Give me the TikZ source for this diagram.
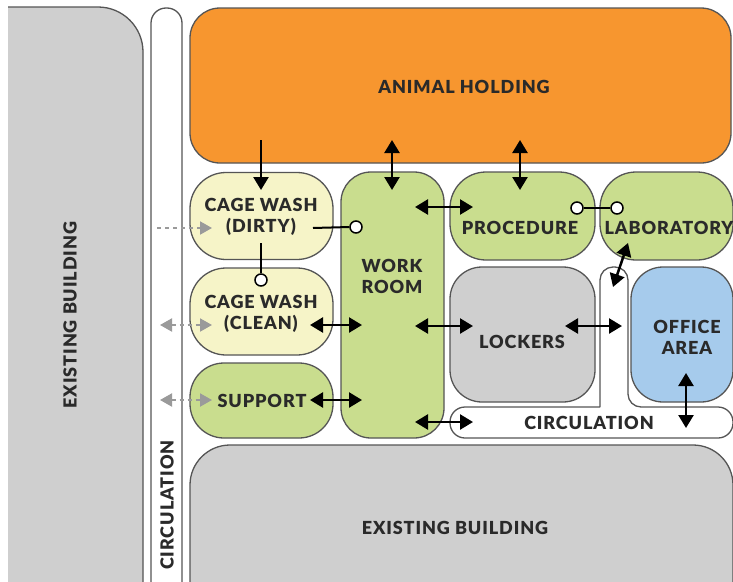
\documentclass[tikz,border=0pt]{standalone}
\usepackage{fontspec}
\setmainfont{Lato}[LetterSpace=5, BoldFont={Lato Black}]
\usetikzlibrary{arrows.meta}
\definecolor{bgray}{HTML}{CFCFCF}
\definecolor{edge}{HTML}{555555}
\definecolor{orng}{HTML}{F7962F}
\definecolor{pale}{HTML}{F6F4C8}
\definecolor{grn}{HTML}{C9DD8E}
\definecolor{blu}{HTML}{A6CBEC}
\definecolor{txt}{HTML}{2A2A2A}
\definecolor{dgray}{HTML}{9A9A9A}
\tikzset{
  room/.style={draw=edge, line width=1.3pt, inner sep=0pt},
  lbl/.style={text=txt, font=\fontsize{18}{21}\selectfont\bfseries, align=center, inner sep=0pt},
  biarrow/.style={line width=2.5pt, {Triangle[length=13pt,width=15pt]}-{Triangle[length=13pt,width=15pt]}},
  oneway/.style={line width=2.5pt, -{Triangle[length=13pt,width=15pt]}},
  gbi/.style={dgray, line width=2pt, dash pattern=on 4pt off 4pt, {Triangle[length=12pt,width=13pt]}-{Triangle[length=12pt,width=13pt]}},
  gone/.style={dgray, line width=2pt, dash pattern=on 4pt off 4pt, -{Triangle[length=12pt,width=13pt]}},
  link/.style={line width=2pt},
  ring/.style={circle, draw=black, line width=1.5pt, fill=white, minimum size=12pt, inner sep=0pt},
}
\begin{document}
\begin{tikzpicture}[x=1pt,y=-1pt]
\useasboundingbox (0,0) rectangle (733,581);
\clip (0,0) rectangle (733,581);
\fill[white] (0,0) rectangle (733,581);
% left existing building
\fill[bgray] (8,600) -- (8,7) {[rounded corners=45pt] -- (143,7) -- (143,600)};
\draw[edge, line width=1.3pt] (8,7) {[rounded corners=45pt] -- (143,7) -- (143,600)};
\node[lbl, rotate=90] (exL) at (70,315) {EXISTING BUILDING};
% circulation strip
\draw[edge, line width=1.3pt, fill=white] (151,600) {[rounded corners=15pt] -- (151,8) -- (182,8) -- (182,600)};
\node[lbl, rotate=90] (circV) at (167,505) {CIRCULATION};
% bottom existing building
\draw[edge, line width=1.3pt, fill=bgray] (190,600) {[rounded corners=40pt] -- (190,445) -- (733,445) -- (733,600)};
\node[lbl] (exB) at (455,528) {EXISTING BUILDING};
% inner circulation
\draw[edge, line width=1.3pt, fill=white] (600,407) {[rounded corners=13pt] -- (600,267) -- (628,267) -- (628,407)}
  {[rounded corners=15pt] -- (733,407) -- (733,438) -- (450,438) -- (450,407) -- (600,407)};
\node[lbl] (circH) at (589,423) {CIRCULATION};
% rooms
\node[room, fill=orng, rounded corners=30pt, minimum width=541pt, minimum height=155pt] (animal) at (460.5,85.5) {};
\node[lbl] (animalT) at (464,87) {ANIMAL HOLDING};
\node[room, fill=pale, rounded corners=36pt, minimum width=143pt, minimum height=87pt] (dirty) at (261.5,216) {};
\node[lbl] (dirtyT) at (261,217) {CAGE WASH\\(DIRTY)};
\node[room, fill=pale, rounded corners=36pt, minimum width=143pt, minimum height=87pt] (clean) at (261.5,311.5) {};
\node[lbl] (cleanT) at (261,314) {CAGE WASH\\(CLEAN)};
\node[room, fill=grn, rounded corners=34pt, minimum width=143pt, minimum height=75pt] (support) at (261.5,400.5) {};
\node[lbl] (supportT) at (262,401) {SUPPORT};
\node[room, fill=grn, rounded corners=30pt, minimum width=103pt, minimum height=266pt] (work) at (392.5,305) {};
\node[lbl] (workT) at (392,276) {WORK\\ROOM};
\node[room, fill=grn, rounded corners=36pt, minimum width=145pt, minimum height=88pt] (proc) at (522.5,216) {};
\node[lbl] (procT) at (520,228) {PROCEDURE};
\node[room, fill=grn, rounded corners=36pt, minimum width=133pt, minimum height=88pt] (lab) at (666.5,216) {};
\node[lbl] (labT) at (669,228) {LABORATORY};
\node[room, fill=bgray, rounded corners=32pt, minimum width=145pt, minimum height=135pt] (lock) at (522.5,334.5) {};
\node[lbl] (lockT) at (522,342) {LOCKERS};
\node[room, fill=blu, rounded corners=32pt, minimum width=102pt, minimum height=135pt] (office) at (682,334.5) {};
\node[lbl] (officeT) at (687,337) {OFFICE\\AREA};
% arrow end points
\coordinate (a1s) at (261,140); \coordinate (a1e) at (261,190);
\coordinate (a2s) at (392,140); \coordinate (a2e) at (392,190);
\coordinate (a3s) at (520,140); \coordinate (a3e) at (520,190);
\coordinate (a4s) at (415,207); \coordinate (a4e) at (473,207);
\coordinate (a5s) at (628,243); \coordinate (a5e) at (613,287);
\coordinate (a6s) at (310,325); \coordinate (a6e) at (362,325);
\coordinate (a7s) at (310,400); \coordinate (a7e) at (362,400);
\coordinate (a8s) at (415,326); \coordinate (a8e) at (473,326);
\coordinate (a9s) at (565,326); \coordinate (a9e) at (622,326);
\coordinate (a10s) at (415,422); \coordinate (a10e) at (473,422);
\coordinate (a11s) at (686,373); \coordinate (a11e) at (686,428);
\coordinate (g1s) at (157,228); \coordinate (g1e) at (212,228);
\coordinate (g2s) at (160,325); \coordinate (g2e) at (212,325);
\coordinate (g3s) at (160,400); \coordinate (g3e) at (212,400);
\coordinate (l1s) at (313,228); \coordinate (l2s) at (261,243);
% adjacency links with rings
\node[ring] (r1) at (356,227) {};
\node[ring] (r2) at (261,280) {};
\node[ring] (r3) at (577,208) {};
\node[ring] (r4) at (617,208) {};
\draw[link] (l1s) -- (r1.west);
\draw[link] (l2s) -- (r2.north);
\draw[link] (r3.east) -- (r4.west);
% black arrows
\draw[oneway] (a1s) -- (a1e);
\draw[biarrow] (a2s) -- (a2e);
\draw[biarrow] (a3s) -- (a3e);
\draw[biarrow] (a4s) -- (a4e);
\draw[biarrow] (a5s) -- (a5e);
\draw[biarrow] (a6s) -- (a6e);
\draw[biarrow] (a7s) -- (a7e);
\draw[biarrow] (a8s) -- (a8e);
\draw[biarrow] (a9s) -- (a9e);
\draw[biarrow] (a10s) -- (a10e);
\draw[biarrow] (a11s) -- (a11e);
% grey dashed arrows
\draw[gone] (g1s) -- (g1e);
\draw[gbi] (g2s) -- (g2e);
\draw[gbi] (g3s) -- (g3e);
\end{tikzpicture}
\end{document}
